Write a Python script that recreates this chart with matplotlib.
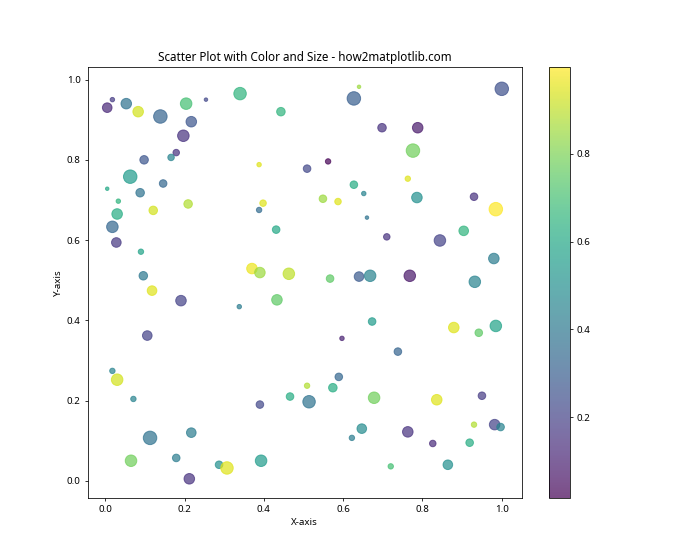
import matplotlib
matplotlib.use("Agg")
import matplotlib.pyplot as plt

plt.rcParams['font.family'] = ['Noto Sans', 'DejaVu Sans']

# values
x = [0.005, 0.018, 0.053, 0.083, 0.139, 0.204, 0.217, 0.197, 0.254, 0.340,
     0.443, 0.627, 0.640, 1.000, 0.179, 0.166, 0.098, 0.063, 0.005, 0.088,
     0.146, 0.033, 0.030, 0.121, 0.209, 0.698, 0.388, 0.509, 0.562, 0.627,
     0.652, 0.549, 0.587, 0.398, 0.388, 0.788, 0.776, 0.763, 0.786, 0.930,
     0.985, 0.018, 0.028, 0.090, 0.096, 0.118, 0.191, 0.338, 0.106, 0.660,
     0.431, 0.710, 0.370, 0.390, 0.463, 0.567, 0.640, 0.668, 0.433, 0.673,
     0.597, 0.844, 0.904, 0.980, 0.768, 0.932, 0.879, 0.942, 0.985, 0.738,
     0.018, 0.030, 0.071, 0.113, 0.217, 0.065, 0.179, 0.287, 0.307, 0.212,
     0.589, 0.509, 0.574, 0.466, 0.514, 0.390, 0.678, 0.647, 0.622, 0.393,
     0.720, 0.836, 0.950, 0.930, 0.982, 0.997, 0.763, 0.826, 0.919, 0.864]

y = [0.930, 0.950, 0.940, 0.920, 0.908, 0.940, 0.895, 0.860, 0.950, 0.965,
     0.920, 0.953, 0.982, 0.977, 0.818, 0.806, 0.800, 0.758, 0.728, 0.718,
     0.741, 0.697, 0.665, 0.674, 0.690, 0.880, 0.788, 0.778, 0.796, 0.738,
     0.716, 0.703, 0.696, 0.692, 0.675, 0.880, 0.823, 0.753, 0.706, 0.708,
     0.677, 0.633, 0.594, 0.571, 0.511, 0.474, 0.449, 0.434, 0.362, 0.656,
     0.626, 0.608, 0.529, 0.519, 0.516, 0.504, 0.509, 0.511, 0.451, 0.397,
     0.355, 0.599, 0.623, 0.554, 0.511, 0.496, 0.382, 0.369, 0.386, 0.322,
     0.274, 0.252, 0.204, 0.107, 0.120, 0.050, 0.057, 0.040, 0.032, 0.005,
     0.259, 0.237, 0.232, 0.210, 0.197, 0.190, 0.207, 0.130, 0.107, 0.050,
     0.036, 0.202, 0.212, 0.140, 0.140, 0.134, 0.122, 0.093, 0.095, 0.040]

colors = [0.12, 0.18, 0.38, 0.93, 0.32, 0.70, 0.27, 0.15, 0.22, 0.65,
          0.65, 0.30, 0.85, 0.25, 0.15, 0.45, 0.27, 0.55, 0.60, 0.38,
          0.33, 0.65, 0.62, 0.93, 0.88, 0.15, 0.95, 0.22, 0.015, 0.62,
          0.45, 0.85, 0.95, 0.95, 0.35, 0.08, 0.78, 0.95, 0.50, 0.15,
          0.997, 0.33, 0.17, 0.58, 0.40, 0.95, 0.20, 0.42, 0.20, 0.38,
          0.60, 0.15, 0.97, 0.85, 0.90, 0.75, 0.28, 0.45, 0.75, 0.55,
          0.10, 0.20, 0.65, 0.42, 0.07, 0.45, 0.95, 0.75, 0.58, 0.32,
          0.45, 0.93, 0.45, 0.38, 0.42, 0.78, 0.42, 0.50, 0.95, 0.15,
          0.33, 0.88, 0.62, 0.62, 0.38, 0.22, 0.78, 0.48, 0.42, 0.55,
          0.70, 0.95, 0.18, 0.88, 0.20, 0.45, 0.15, 0.13, 0.62, 0.50]

sizes = [98, 21, 118, 118, 193, 141, 118, 141, 13, 165,
         77, 193, 13, 193, 45, 45, 77, 193, 13, 77,
         61, 21, 118, 77, 77, 77, 21, 61, 31, 61,
         21, 61, 45, 45, 31, 118, 193, 31, 118, 61,
         193, 141, 98, 31, 77, 98, 118, 21, 98, 13,
         61, 45, 118, 118, 141, 61, 98, 141, 118, 61,
         21, 141, 98, 118, 141, 141, 118, 61, 141, 61,
         31, 141, 31, 193, 98, 141, 61, 61, 165, 118,
         61, 31, 77, 61, 165, 61, 141, 98, 31, 141,
         31, 118, 61, 31, 118, 61, 118, 45, 61, 98]

fig = plt.figure(figsize=(10, 8), dpi=70)
sc = plt.scatter(x, y, c=colors, s=sizes, alpha=0.7, cmap="viridis")
plt.colorbar(sc)
plt.title("Scatter Plot with Color and Size - how2matplotlib.com")
plt.xlabel("X-axis")
plt.ylabel("Y-axis")
plt.savefig("out.png", dpi=70)
